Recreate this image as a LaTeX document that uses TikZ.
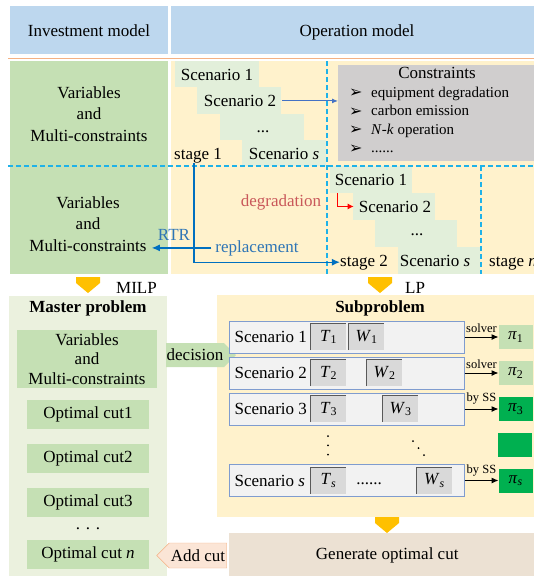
\documentclass[tikz,border=0pt]{standalone}
\usepackage{fontspec}
\setmainfont{Liberation Serif}
\newfontfamily\dingfont{DejaVu Sans}
\usetikzlibrary{positioning,arrows.meta,shapes.symbols}

\definecolor{hdrblue}{HTML}{BDD7EE}
\definecolor{milpgreen}{HTML}{C5E0B4}
\definecolor{stairgreen}{HTML}{E2EFDA}
\definecolor{masterbg}{HTML}{EBF1DE}
\definecolor{paneyellow}{HTML}{FFF2CC}
\definecolor{consgray}{HTML}{D0CECE}
\definecolor{linecyan}{HTML}{1FB2E8}
\definecolor{arrowblue}{HTML}{4472C4}
\definecolor{stageblue}{HTML}{0070C0}
\definecolor{rtrblue}{HTML}{2E75B6}
\definecolor{degred}{HTML}{C9585A}
\definecolor{rowgray}{HTML}{F2F2F2}
\definecolor{rowblue}{HTML}{7F9CCF}
\definecolor{tgray}{HTML}{D9D9D9}
\definecolor{pigreen}{HTML}{00B050}
\definecolor{chevgold}{HTML}{FFC000}
\definecolor{genbeige}{HTML}{ECE1D3}
\definecolor{cutpeach}{HTML}{FBE5D6}
\definecolor{orangeline}{HTML}{F4B183}

\newcommand{\sixdots}{......}

\tikzset{
  lbl/.style={font=\fontsize{17}{21.6}\selectfont, inner sep=0pt, align=center},
  small/.style={font=\fontsize{12.5}{14}\selectfont, inner sep=0pt},
  item/.style={font=\fontsize{15}{18}\selectfont, inner sep=0pt, anchor=base west},
  cutline/.style={linecyan, line width=1.3pt, dash pattern=on 5pt off 3pt},
  cutbox/.style={lbl, fill=milpgreen, minimum width=122, minimum height=29},
  varsbox/.style={lbl, font=\fontsize{17}{19.5}\selectfont, fill=milpgreen, minimum width=140, minimum height=58},
  rowbox/.style={fill=rowgray, draw=rowblue, line width=1pt, minimum width=235, minimum height=32},
  tbox/.style={lbl, fill=tgray, minimum width=35, minimum height=26},
  inset/.style={draw=black!65, line width=0.8pt},
  pibox/.style={lbl, fill=milpgreen, minimum width=34, minimum height=24},
  rowarrow/.style={line width=1pt, -{Latex[length=7pt,width=6pt]}},
  stageline/.style={stageblue, line width=1.3pt, -{Latex[length=8pt,width=7pt]}}
}

\begin{document}
\begin{tikzpicture}[x=1pt,y=-1pt]
\useasboundingbox (0,0) rectangle (534,576);

\fill[hdrblue] (10,6) rectangle (168,54);
\fill[hdrblue] (171,6) rectangle (545,54);
\node[lbl, anchor=base] (invest) at (89,36.5) {Investment model};
\node[lbl, anchor=base] (oper) at (357,36.5) {Operation model};
\draw[orangeline, line width=1.6pt] (8,58.5) -- (545,58.5);

\fill[milpgreen] (10,61) rectangle (168,274);
\fill[paneyellow] (171,61) rectangle (545,274);
\foreach \i in {0,...,3}
  \fill[stairgreen] (175+22.3*\i,61+26.25*\i) rectangle ++(84,26.25);
\foreach \i in {0,...,3}
  \fill[stairgreen] (330+22.5*\i,166+27*\i) rectangle ++(82,27);
\draw[cutline] (8,166) -- (545,166);
\draw[cutline] (327,61) -- (327,274);
\draw[cutline] (481,166) -- (481,274);

\node[lbl, inner xsep=5pt] (vars1) at (89,114) {Variables\\and\\Multi-constraints};
\node[lbl, inner xsep=5pt] (vars2) at (88,224) {Variables\\and\\Multi-constraints};

\node[lbl, anchor=base] (tsc1) at (217,80) {Scenario 1};
\node[lbl, anchor=base] (tsc2) at (240,106.5) {Scenario 2};
\node[lbl, anchor=base] (tdots) at (263,132) {...};
\node[lbl, anchor=base] (tscs) at (284,159) {Scenario \textit{s}};
\node[lbl, anchor=base] (stage1) at (198,159) {stage 1};

\node[fill=consgray, minimum width=210, minimum height=96, anchor=north west] (cons) at (338,65) {};
\node[lbl, anchor=base] (constitle) at (437,78.5) {Constraints};
\foreach \txt [count=\k] in {equipment degradation, carbon emission, \textit{N}-\textit{k} operation, \sixdots} {
  \node[item, font=\fontsize{16}{18}\selectfont] (bul\k) at (349,79+18.5*\k) {\dingfont ➢};
  \node[item] (item\k) at (371,78.5+18.5*\k) {\txt};
}
\draw[arrowblue, line width=1pt, -{Latex[length=6pt,width=5pt]}] ([xshift=6pt]tsc2.east) -- (tsc2.east -| cons.west);

\node[lbl, anchor=base] (bsc1) at (371,185.5) {Scenario 1};
\node[lbl, anchor=base] (bsc2) at (395,212) {Scenario 2};
\node[lbl, anchor=base] (bdots) at (417,235.5) {...};
\node[lbl, anchor=base] (bscs) at (435,266) {Scenario \textit{s}};
\node[lbl, anchor=base] (stage2) at (364,266) {stage 2};
\node[lbl, anchor=base west] (stagen) at (489,266) {stage \textit{n}};

\node[lbl, anchor=base, text=degred] (degr) at (281,206) {degradation};
\coordinate (degtop) at (337,193);
\draw[red, line width=1pt, -{Latex[length=6pt,width=6pt]}] (degtop) |- ([xshift=-5pt]bsc2.west);

\node[lbl, anchor=base, text=rtrblue] (rtr) at (174,240.5) {RTR};
\node[lbl, anchor=base, text=rtrblue] (repl) at (257,252) {replacement};
\draw[stageline] ([xshift=-4pt]repl.west) -- (repl.west -| vars2.east);
\draw[stageline] ([xshift=-4pt]stage1.south) |- (stage2.west);

\foreach \cx/\cy in {88/277, 380/277, 387/517}
  \fill[chevgold] (\cx-12,\cy) -- ++(24,0) -- ++(0,6) -- ++(-12,10) -- ++(-12,-10) -- cycle;
\node[lbl, anchor=base west] (milp) at (116,293) {MILP};
\node[lbl, anchor=base west] (lp) at (405,293) {LP};

\fill[masterbg] (9,296) rectangle (167,580);
\node[lbl, anchor=base] (master) at (88,312.5) {\textbf{Master problem}};
\node[varsbox] (mvars) at (87,359) {Variables\\and\\Multi-constraints};
\foreach \k/\y in {1/414.5,2/458.5,3/502.5}
  \node[cutbox] (cut\k) at (88,\y) {Optimal cut\k};
\node[lbl, anchor=base] (cutdots) at (88,529) {.\,\,.\,\,.};
\node[cutbox] (cutn) at (88,554.5) {Optimal cut \textit{n}};

\fill[paneyellow] (217,295) rectangle (545,517);
\node[lbl, anchor=base] (sub) at (380,312.5) {\textbf{Subproblem}};

\node[lbl, signal, signal to=east, fill=milpgreen, minimum width=70, minimum height=24] (decision) at (195,355) {decision};

\foreach \k/\y/\wx/\how/\pc in {1/337/366.5/solver/milpgreen, 2/373/384.5/solver/milpgreen, 3/409/400.5/by SS/pigreen} {
  \node[rowbox] (row\k) at (346.5,\y) {};
  \node[lbl, anchor=west] (sc\k) at ([xshift=6pt]row\k.west) {Scenario \k};
  \node[tbox] (t\k) at (328.5,\y) {\textit{T}\textsubscript{\k}};
  \node[tbox] (w\k) at (\wx,\y) {\textit{W}\textsubscript{\k}};
  \draw[inset] (t\k.south west) |- (t\k.north east);
  \draw[inset] (w\k.south west) |- (w\k.north east);
  \node[pibox, fill=\pc, right=34pt of row\k] (pi\k) {\textit{π}\textsubscript{\k}};
  \draw[rowarrow] (row\k) -- node[small, above=4pt] {\how} (pi\k);
}

\foreach \d in {0,1,2} {
  \fill (328,436+9.3*\d) circle (1);
  \fill (413+5.5*\d,441+7*\d) circle (1);
}
\node[pibox, fill=pigreen] (piblank) at (515,445) {};

\node[rowbox] (rows) at (346.5,480.5) {};
\node[lbl, anchor=west] (scs) at ([xshift=6pt]rows.west) {Scenario \textit{s}};
\node[tbox] (ts) at (328.5,480.5) {\textit{T}\textsubscript{\textit{s}}};
\node[tbox] (ws) at (434.5,480.5) {\textit{W}\textsubscript{\textit{s}}};
\draw[inset] (ts.south west) |- (ts.north east);
\draw[inset] (ws.south west) |- (ws.north east);
\node[lbl, anchor=base] (rowdots) at (369,484) {\sixdots};
\node[pibox, fill=pigreen, right=34pt of rows] (pis) {\textit{π}\textsubscript{\textit{s}}};
\draw[rowarrow] (rows) -- node[small, above=4pt] {by SS} (pis);

\node[lbl, fill=genbeige, minimum width=316, minimum height=44, anchor=north west] (gen) at (229,533) {Generate optimal cut};
\node[lbl, signal, signal to=west, fill=cutpeach, draw=orangeline, minimum width=70, minimum height=25] (addcut) at (198,555.5) {Add cut};
\end{tikzpicture}
\end{document}
